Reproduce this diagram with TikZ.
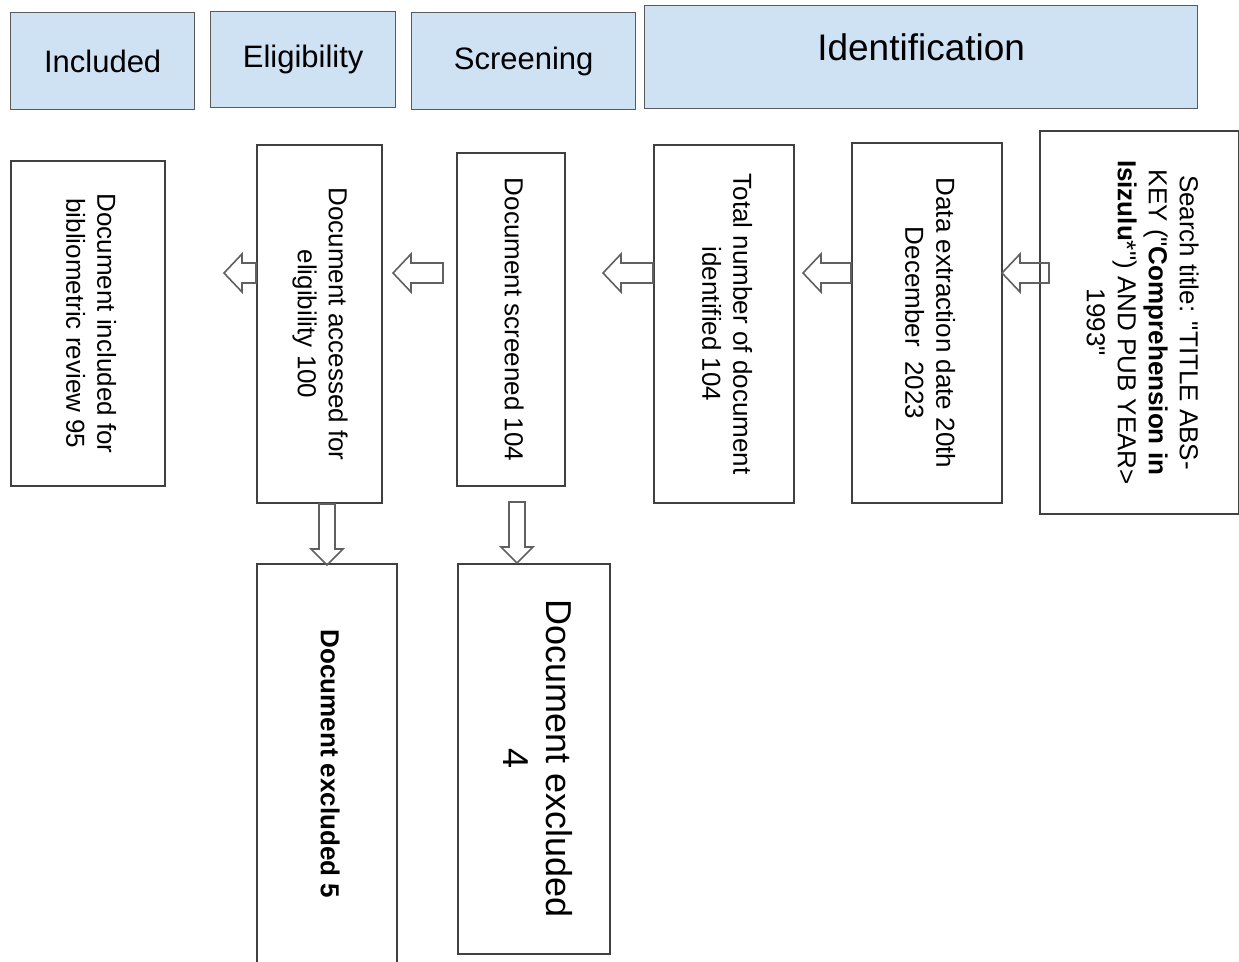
\documentclass[tikz,border=0pt]{standalone}
\usepackage{fontspec}
\setmainfont{Liberation Sans}
\usepackage{graphicx}
\usetikzlibrary{positioning}
\definecolor{hdrblue}{HTML}{CFE2F3}
\definecolor{edgegray}{HTML}{404040}
\newcommand{\vtext}[1]{\rotatebox{-90}{\begin{tabular}{@{}c@{}}#1\end{tabular}}}
\newcommand{\dq}{\textquotedbl}

\begin{document}
\begin{tikzpicture}[
  x=1pt, y=-1pt,
  hdr/.style={draw=gray!70!black, fill=hdrblue, line width=1.3pt, inner sep=0pt,
    anchor=north west, font=\fontsize{31}{36}\selectfont},
  box/.style={draw=edgegray, line width=2pt, inner sep=0pt, anchor=north west,
    font=\fontsize{26}{31}\selectfont},
  hollow/.style={draw=gray!75!black, line width=1.6pt, line join=miter},
  pics/larrow/.style={code={\draw[hollow] (0,-10) -- ({-#1+18},-10) -- ({-#1+18},-19)
    -- (-#1,0) -- ({-#1+18},19) -- ({-#1+18},10) -- (0,10) -- cycle;}},
  pics/darrow/.style={code={\draw[hollow] (-8,0) -- (-8,{#1-16}) -- (-16,{#1-16})
    -- (0,#1) -- (16,{#1-16}) -- (8,{#1-16}) -- (8,0) -- cycle;}}
]
\useasboundingbox (0,0) rectangle (1239,961);
\clip (0,0) rectangle (1239,961);

% stage headers
\node[hdr, minimum width=184, minimum height=97] (hincl) at (10,12) {Included};
\node[hdr, minimum width=185, minimum height=96] (helig) at (210,11) {Eligibility};
\node[hdr, minimum width=224, minimum height=97] (hscr) at (411,12) {Screening};
\node[hdr, minimum width=553, minimum height=103, text depth=20pt,
  font=\fontsize{37}{42}\selectfont] (hident) at (644,5) {Identification};

% main flow
\node[box, minimum width=154, minimum height=325] (incl) at (10,160)
  {\vtext{Document included for\\bibliometric review 95}};
\node[box, minimum width=125, minimum height=358] (elig) at (256,144)
  {\vtext{Document accessed for\\eligibility 100}};
\node[box, minimum width=108, minimum height=333] (scr) at (456,152)
  {\vtext{Document screened 104}};
\node[box, minimum width=140, minimum height=358] (ident) at (653,144)
  {\vtext{Total number of document\\identified 104}};
\node[box, minimum width=150, minimum height=360] (data) at (851,142)
  {\vtext{Data extraction date 20th\\December\ \ 2023}};
\node[box, minimum width=199, minimum height=383] (search) at (1039,130)
  {\vtext{Search title: \dq TITLE ABS-\\KEY (\dq\textbf{Comprehension in}\\\textbf{Isizulu}*\dq) AND PUB YEAR>\\1993\dq}};

% excluded
\node[box, minimum width=140, minimum height=400,
  font=\fontsize{26}{31}\selectfont\bfseries] (excl5) at (256,563)
  {\vtext{Document excluded 5}};
\node[box, minimum width=152, minimum height=390,
  font=\fontsize{36}{43}\selectfont] (excl4) at (457,563)
  {\vtext{Document excluded\\4}};

% block arrows
\pic at (elig.west |- 0,273) {larrow=32};
\pic at (443,273) {larrow=50};
\pic at (ident.west |- 0,273) {larrow=50};
\pic at (data.west |- 0,273) {larrow=48};
\pic at (1049,273) {larrow=47};
\pic at (elig.south -| excl5.north) {darrow=61};
\pic at (517,502) {darrow=61};
\end{tikzpicture}
\end{document}
